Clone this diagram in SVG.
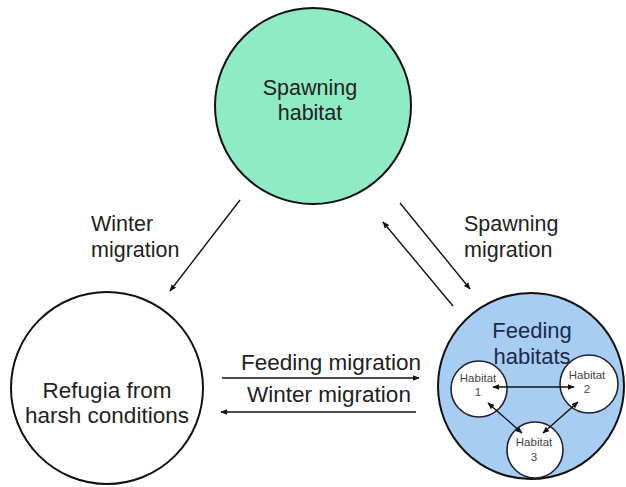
<svg xmlns="http://www.w3.org/2000/svg" width="626" height="487" viewBox="0 0 626 487">
<defs>
<marker id="ah" viewBox="0 0 10 10" refX="9" refY="5" markerWidth="7" markerHeight="7" orient="auto-start-reverse" markerUnits="userSpaceOnUse">
<path d="M0,1 L10,5 L0,9 z" fill="#111"/>
</marker>
<marker id="ahs" viewBox="0 0 10 10" refX="9" refY="5" markerWidth="7" markerHeight="7" orient="auto-start-reverse" markerUnits="userSpaceOnUse">
<path d="M0,1 L10,5 L0,9 z" fill="#111"/>
</marker>
</defs>
<style>
.big{font-family:"Liberation Sans",Arial,sans-serif;font-size:21.5px;fill:#222;text-anchor:middle}
.big2{font-family:"Liberation Sans",Arial,sans-serif;font-size:22.5px;fill:#222;text-anchor:middle}
.lbl{font-family:"Liberation Sans",Arial,sans-serif;font-size:21.5px;fill:#222;text-anchor:start}
.sm{font-family:"Liberation Sans",Arial,sans-serif;font-size:11.5px;fill:#444;text-anchor:middle}
.node{stroke:#111;stroke-width:2}
.conn{stroke:#111;stroke-width:1.4;fill:none}
</style>
<rect width="626" height="487" fill="#ffffff"/>
<g id="spawning">
<circle class="node" cx="313" cy="106" r="98" fill="#8FEBC3"/>
<text class="big" x="310" y="95">Spawning</text>
<text class="big" x="310" y="120">habitat</text>
</g>
<g id="refugia">
<circle class="node" cx="107" cy="388" r="96" fill="#ffffff"/>
<text class="big2" x="107" y="398">Refugia from</text>
<text class="big2" x="107" y="423">harsh conditions</text>
</g>
<g id="feeding">
<circle class="node" cx="531" cy="386" r="93" fill="#A8CDF3"/>
<text class="big" x="532" y="338" style="fill:#1b2a48;font-size:22px">Feeding</text>
<text class="big" x="532" y="364" style="fill:#1b2a48;font-size:22px">habitats</text>
</g>
<g id="habitat1">
<circle cx="479" cy="389" r="28" fill="#ffffff" stroke="#223" stroke-width="1.6"/>
<text class="sm" x="478" y="382">Habitat</text>
<text class="sm" x="478" y="396">1</text>
</g>
<g id="habitat2">
<circle cx="589" cy="384" r="29" fill="#ffffff" stroke="#223" stroke-width="1.6"/>
<text class="sm" x="587" y="379">Habitat</text>
<text class="sm" x="587" y="393">2</text>
</g>
<g id="habitat3">
<circle cx="535" cy="450" r="28" fill="#ffffff" stroke="#223" stroke-width="1.6"/>
<text class="sm" x="534" y="446">Habitat</text>
<text class="sm" x="534" y="461">3</text>
</g>
<g id="connectors">
<line class="conn" x1="240" y1="200" x2="170" y2="291" marker-end="url(#ah)"/>
<line class="conn" x1="400" y1="203" x2="470" y2="289" marker-end="url(#ah)"/>
<line class="conn" x1="453" y1="306" x2="383" y2="222" marker-end="url(#ah)"/>
<line class="conn" x1="222" y1="378" x2="419" y2="378" marker-end="url(#ah)"/>
<line class="conn" x1="416" y1="412" x2="221" y2="412" marker-end="url(#ah)"/>
<line class="conn" x1="493" y1="387" x2="574" y2="387" stroke-width="1.3" marker-start="url(#ahs)" marker-end="url(#ahs)"/>
<line class="conn" x1="488" y1="403" x2="522" y2="433" stroke-width="1.3" marker-start="url(#ahs)" marker-end="url(#ahs)"/>
<line class="conn" x1="578" y1="402" x2="543" y2="433" stroke-width="1.3" marker-start="url(#ahs)" marker-end="url(#ahs)"/>
</g>
<g id="labels">
<text class="lbl" x="91" y="231">Winter</text>
<text class="lbl" x="91" y="257">migration</text>
<text class="lbl" x="464" y="231">Spawning</text>
<text class="lbl" x="464" y="257">migration</text>
<text class="big2" x="331" y="370">Feeding migration</text>
<text class="big2" x="329" y="402">Winter migration</text>
</g>
</svg>
